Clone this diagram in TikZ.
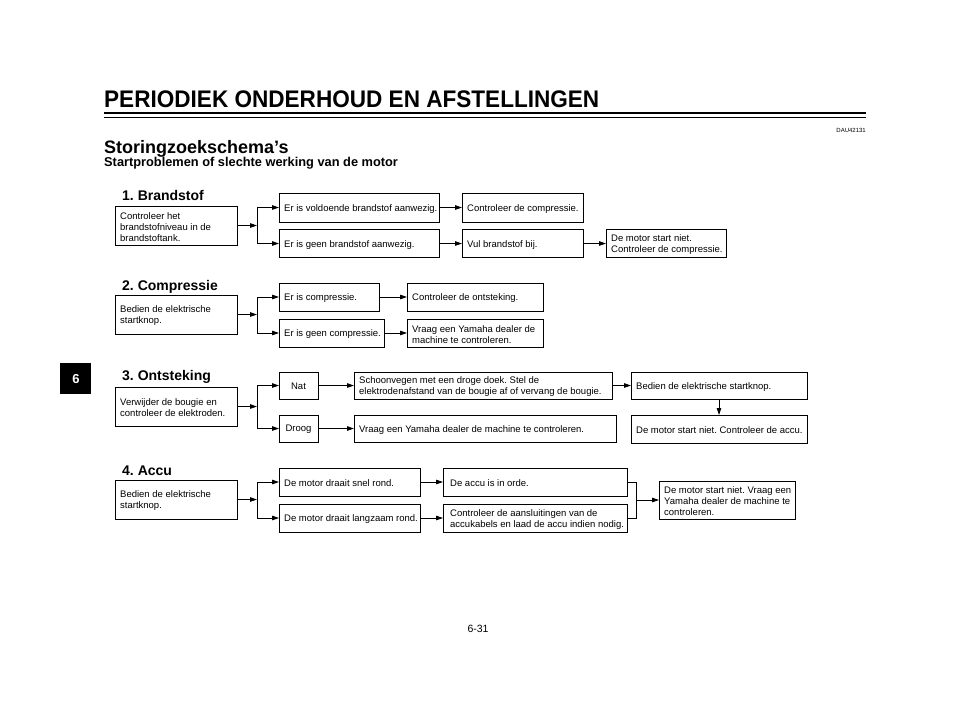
\documentclass[tikz,border=0pt]{standalone}
\usepackage{fontspec}
\usepackage{graphicx}
\setmainfont{Liberation Sans}
\usetikzlibrary{arrows.meta}
\frenchspacing
\newcommand\bx[7][5]{%
  \node[frame, minimum width=#5pt, minimum height=#6pt] (#2) at (#3,#4) {};
  \node[txt] (#2t) at ([xshift=#1pt, yshift=-1.2pt]#2.west) {#7};}
\newcommand\cbx[6]{%
  \node[frame, minimum width=#4pt, minimum height=#5pt] (#1) at (#2,#3) {};
  \node[txt, anchor=center] (#1t) at ([yshift=-1.2pt]#1.center) {#6};}
\begin{document}
\begin{tikzpicture}[x=1pt,y=-1pt,
  frame/.style={draw, line width=0.75pt, anchor=north west, inner sep=0pt, outer sep=0pt},
  txt/.style={anchor=west, inner sep=0pt, align=left, font=\fontsize{9.5}{11}\selectfont},
  arr/.style={line width=0.75pt, -{Triangle[length=7pt,width=4.5pt]}},
  ln/.style={line width=0.75pt},
  head/.style={anchor=base west, inner sep=0pt, font=\fontsize{14}{16}\selectfont\bfseries},
]
\useasboundingbox (0,0) rectangle (960,712);
\fill[white] (0,0) rectangle (960,712);

% header
\node[anchor=base west, inner sep=0pt, font=\fontsize{24}{28}\selectfont\bfseries] (title) at (104,107)
  {\scalebox{0.94}[1]{PERIODIEK ONDERHOUD EN AFSTELLINGEN}};
\draw[line width=2.2pt] (104,113) -- (866,113);
\draw[line width=0.8pt] (104,117) -- (866,117);
\node[anchor=base east, inner sep=0pt, font=\fontsize{6}{7}\selectfont] (dau) at (866,132) {DAU42131};
\node[anchor=base west, inner sep=0pt, font=\fontsize{18}{20}\selectfont\bfseries] (st) at (104,153) {Storingzoekschema’s};
\node[anchor=base west, inner sep=0pt, font=\fontsize{12.8}{15}\selectfont\bfseries] (sub) at (104,166) {Startproblemen of slechte werking van de motor};

% tab
\fill[black] (60,363) rectangle (91,394);
\node[inner sep=0pt, text=white, font=\fontsize{13}{15}\selectfont\bfseries] (tab) at (76,379) {6};

% page number
\node[inner sep=0pt, font=\fontsize{10.5}{12}\selectfont] (pg) at (478,629) {6-31};

% ---------- 1. Brandstof
\node[head] (h1) at (122,200) {1. Brandstof};
\bx{a1}{115}{206}{122}{39}{Controleer het\\brandstofniveau in de\\brandstoftank.}
\bx{b1a}{279}{193}{160}{29}{Er is voldoende brandstof aanwezig.}
\bx{b1b}{279}{229.5}{160}{28}{Er is geen brandstof aanwezig.}
\bx{c1a}{462}{193}{121}{29}{Controleer de compressie.}
\bx{c1b}{462}{229.5}{121}{28}{Vul brandstof bij.}
\bx{d1b}{606}{229.5}{120}{28}{De motor start niet.\\Controleer de compressie.}
\coordinate (s1) at (257,225.5);
\draw[arr] (a1.east) -- (a1.east -| s1);
\draw[arr] (s1) |- (b1a.west);
\draw[arr] (s1) |- (b1b.west);
\draw[arr] (b1a.east) -- (c1a.west);
\draw[arr] (b1b.east) -- (c1b.west);
\draw[arr] (c1b.east) -- (d1b.west);

% ---------- 2. Compressie
\node[head] (h2) at (122,290) {2. Compressie};
\bx{a2}{115}{295}{122}{39}{Bedien de elektrische\\startknop.}
\bx{b2a}{279}{283}{100}{28}{Er is compressie.}
\bx{b2b}{279}{319}{105}{28}{Er is geen compressie.}
\bx{c2a}{407}{283}{136}{28}{Controleer de ontsteking.}
\bx{c2b}{407}{319}{136}{28}{Vraag een Yamaha dealer de\\machine te controleren.}
\coordinate (s2) at (257,315);
\draw[arr] (a2.east) -- (a2.east -| s2);
\draw[arr] (s2) |- (b2a.west);
\draw[arr] (s2) |- (b2b.west);
\draw[arr] (b2a.east) -- (c2a.west);
\draw[arr] (b2b.east) -- (c2b.west);

% ---------- 3. Ontsteking
\node[head] (h3) at (122,380) {3. Ontsteking};
\bx{a3}{115}{387}{122}{39}{Verwijder de bougie en\\controleer de elektroden.}
\cbx{b3a}{279}{372}{39}{27}{Nat}
\cbx{b3b}{279}{415}{39}{27}{Droog}
\bx{c3a}{354}{372}{258}{27}{Schoonvegen met een droge doek. Stel de\\elektrodenafstand van de bougie af of vervang de bougie.}
\bx{c3b}{354}{415}{262}{27}{Vraag een Yamaha dealer de machine te controleren.}
\bx{d3a}{631}{372}{176}{27}{Bedien de elektrische startknop.}
\bx{d3b}{631}{415}{176}{28}{De motor start niet. Controleer de accu.}
\coordinate (s3) at (257,407);
\draw[arr] (a3.east) -- (a3.east -| s3);
\draw[arr] (s3) |- (b3a.west);
\draw[arr] (s3) |- (b3b.west);
\draw[arr] (b3a.east) -- (c3a.west);
\draw[arr] (b3b.east) -- (c3b.west);
\draw[arr] (c3a.east) -- (d3a.west);
\draw[arr] (d3a.south) -- (d3b.north);

% ---------- 4. Accu
\node[head] (h4) at (122,475) {4. Accu};
\bx{a4}{115}{480}{122}{39}{Bedien de elektrische\\startknop.}
\bx{b4a}{279}{468}{141}{28}{De motor draait snel rond.}
\bx{b4b}{279}{504}{141}{28}{De motor draait langzaam rond.}
\bx[7]{c4a}{443}{468}{184}{28}{De accu is in orde.}
\bx[7]{c4b}{443}{504}{184}{28}{Controleer de aansluitingen van de\\accukabels en laad de accu indien nodig.}
\bx{d4}{659}{481}{136}{38}{De motor start niet. Vraag een\\Yamaha dealer de machine te\\controleren.}
\coordinate (s4) at (257,500);
\coordinate (m4) at (636,500);
\draw[arr] (a4.east) -- (a4.east -| s4);
\draw[arr] (s4) |- (b4a.west);
\draw[arr] (s4) |- (b4b.west);
\draw[arr] (b4a.east) -- (c4a.west);
\draw[arr] (b4b.east) -- (c4b.west);
\draw[ln] (c4a.east) -| (m4);
\draw[ln] (c4b.east) -| (m4);
\draw[arr] (m4) -- (d4.west);
\end{tikzpicture}
\end{document}
